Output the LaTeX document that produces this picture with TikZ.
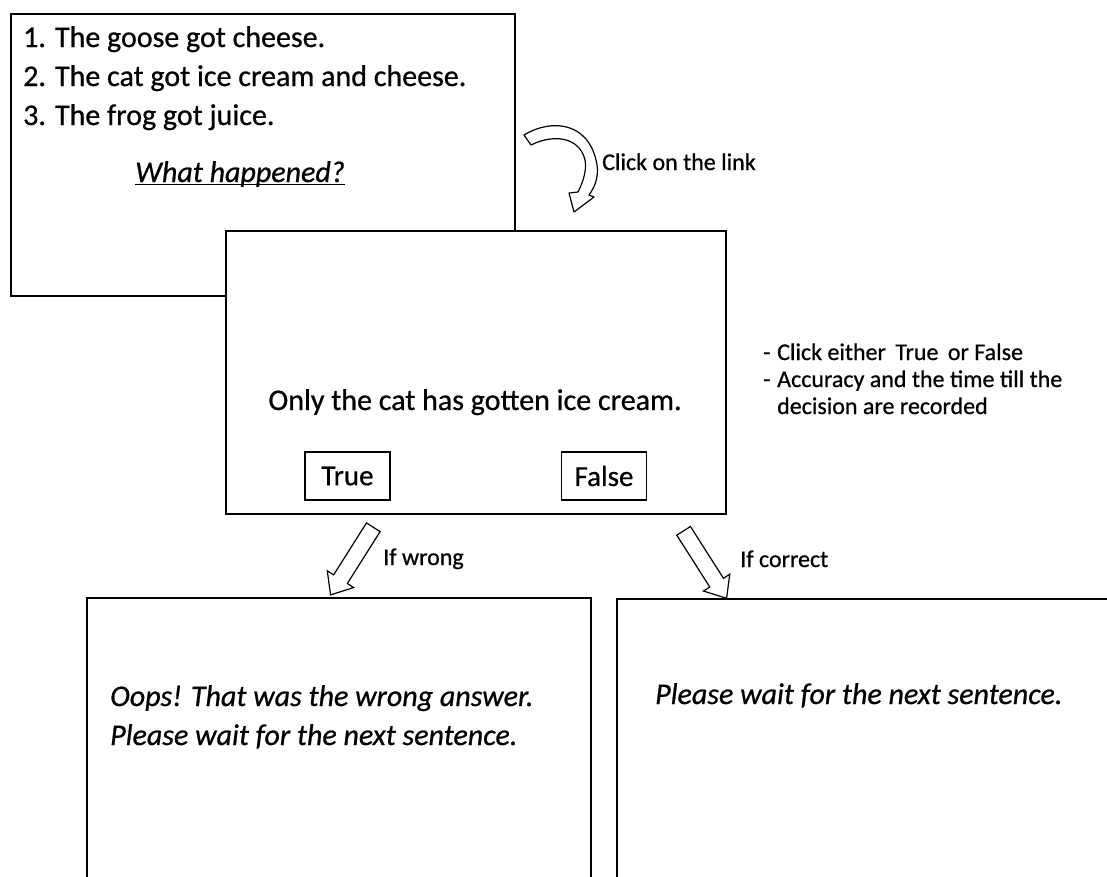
\documentclass[tikz,border=0pt]{standalone}
\usepackage{fontspec}
\setmainfont{Carlito}[FakeBold=0.7]
\usetikzlibrary{shapes.arrows}
\begin{document}
\begin{tikzpicture}[x=1pt,y=-1pt,
  frame/.style={draw, line width=1.5pt, fill=white, inner sep=0pt, anchor=north west},
  btn/.style={draw, line width=1.1pt, inner sep=0pt, minimum width=85pt, minimum height=48pt, font=\fontsize{29}{30}\selectfont},
  txt/.style={inner sep=0pt, anchor=base west, font=\fontsize{30}{36}\selectfont},
  itxt/.style={txt, font=\fontsize{30}{36}\selectfont\itshape},
  lbl/.style={inner sep=0pt, anchor=base west, font=\fontsize{24}{28}\selectfont},
  blockarrow/.style={shape=single arrow, draw, line width=1.2pt, fill=white,
    inner xsep=0pt, inner ysep=7.5pt, minimum height=80pt,
    single arrow head extend=7.5pt, single arrow tip angle=80}
]
\useasboundingbox (0,0) rectangle (1107,876);
\clip (0,0) rectangle (1107,876);

% first screen
\node[frame, minimum width=504pt, minimum height=282pt] (s1) at (10,13) {};
\node[txt] (l1) at (23,47) {1. The goose got cheese.};
\node[txt] (l2) at (23,86) {2. The cat got ice cream and cheese.};
\node[txt] (l3) at (23,125) {3. The frog got juice.};
\node[itxt, anchor=base] (wh) at (240,182) {What happened?};
\draw[line width=1.2pt] ([yshift=-2.5pt]wh.base west) -- ([yshift=-2.5pt]wh.base east);

% curved arrow
\draw[line width=1.2pt, fill=white, line join=round]
  (524,135) .. controls (552,118) and (590,122) .. (597,165)
  .. controls (599,178) and (594,188) .. (589,195)
  -- (594,197) -- (574,212) -- (569,193) -- (578,192)
  .. controls (583,182) and (587,170) .. (585,160)
  .. controls (580,138) and (555,133) .. (531,145) -- cycle;
\node[lbl] (clk) at (602,170) {Click on the link};

% second screen
\node[frame, minimum width=500pt, minimum height=283pt] (s2) at (225,230) {};
\node[txt, anchor=base] (q) at (475,410) {Only the cat has gotten ice cream.};
\node[btn] (t) at (347.5,476) {True};
\node[btn] (f) at (604,476) {False};

% instructions
\node[lbl] (d1) at (763,360) {-};
\node[lbl] (i1) at (777,360) {Click either\, True\, or False};
\node[lbl] (d2) at (763,387) {-};
\node[lbl] (i2) at (777,387) {Accuracy and the time till the};
\node[lbl] (i3) at (777,414) {decision are recorded};

% block arrows
\node[blockarrow, rotate=-122.3] (aw) at (354.5,557) {};
\node[lbl] (w) at (383,565) {If wrong};
\node[blockarrow, rotate=-57.5] (ac) at (702.5,560.5) {};
\node[lbl] (c) at (740,567) {If correct};

% feedback screens
\node[frame, minimum width=504pt, minimum height=300pt] (s3) at (86,597) {};
\node[itxt] (o1) at (110,706) {Oops! That was the wrong answer.};
\node[itxt] (o2) at (110,745) {Please wait for the next sentence.};
\node[frame, minimum width=520pt, minimum height=300pt] (s4) at (616,598) {};
\node[itxt] (p1) at (655,704) {Please wait for the next sentence.};
\end{tikzpicture}
\end{document}
